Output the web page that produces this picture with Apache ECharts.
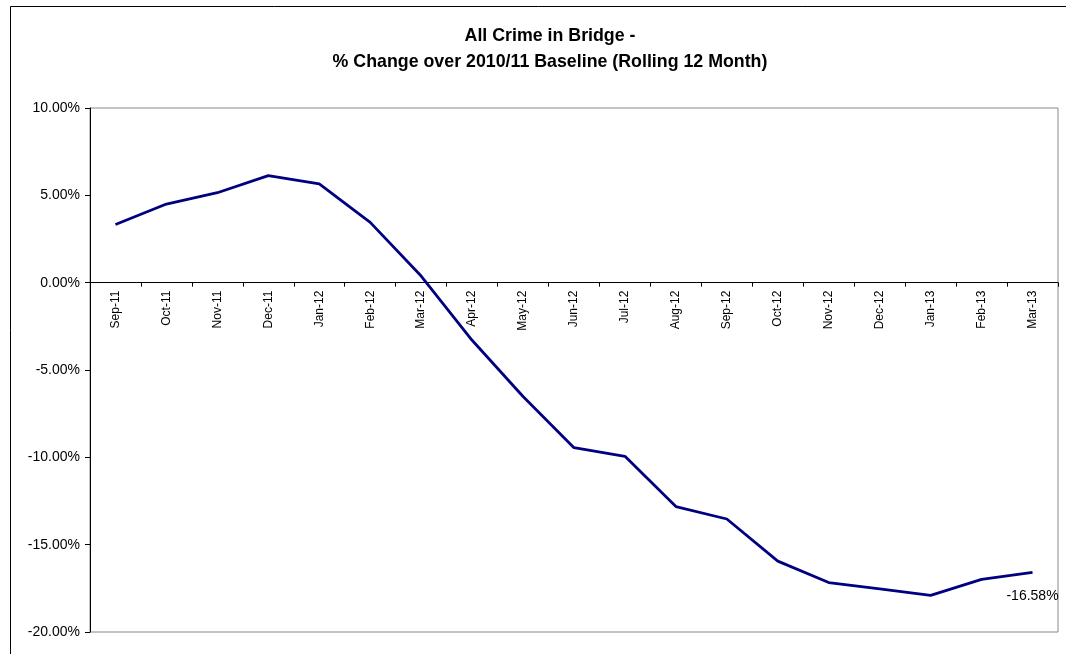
<!DOCTYPE html>
<html><head><meta charset="utf-8">
<script src="https://cdn.jsdelivr.net/npm/echarts@6/dist/echarts.min.js"></script>
<style>html,body{margin:0;padding:0;background:#fff}#c{width:1066px;height:654px}</style>
</head><body><div id="c"></div>
<script>
const categories = ['Sep-11','Oct-11','Nov-11','Dec-11','Jan-12','Feb-12','Mar-12','Apr-12','May-12','Jun-12','Jul-12','Aug-12','Sep-12','Oct-12','Nov-12','Dec-12','Jan-13','Feb-13','Mar-13'];
const pctChange = [3.33,4.50,5.15,6.13,5.65,3.45,0.38,-3.30,-6.52,-9.45,-9.94,-12.82,-13.53,-15.94,-17.17,-17.53,-17.90,-16.99,-16.58];
const yTicks = {min:-20, max:10, step:5};
const titleLines = ['All Crime in Bridge -', '% Change over 2010/11 Baseline (Rolling 12 Month)'];

const chart = echarts.init(document.getElementById('c'));
const font = 'Liberation Sans, Arial, sans-serif';
const gTop = 108, gBottom = 22, H = 654;
const zeroY = gTop + (H - gTop - gBottom) * (yTicks.max / (yTicks.max - yTicks.min));
const last = pctChange.length - 1;
chart.setOption({
  animation:false,
  backgroundColor:'#fff',
  title:{text:titleLines.join('\n'), left:545, top:18, textAlign:'center',
    textStyle:{fontFamily:font, fontSize:17.8, fontWeight:'bold', color:'#000', lineHeight:26}},
  graphic:[{type:'rect', shape:{x:10.5,y:6.5,width:1100,height:700}, style:{fill:'none', stroke:'#000', lineWidth:1}}],
  grid:[
    {left:90, right:8, top:gTop, bottom:gBottom, show:true, borderColor:'#888', borderWidth:1, backgroundColor:'transparent'},
    {left:90, right:8, top:gTop, bottom:H - zeroY, show:false}
  ],
  xAxis:[
    {type:'category', gridIndex:0, data:categories, boundaryGap:true, show:false},
    {type:'category', gridIndex:1, data:categories, boundaryGap:true, position:'bottom',
      axisLine:{show:true, onZero:false, lineStyle:{color:'#000', width:1}},
      axisTick:{show:true, interval:0, length:4, lineStyle:{color:'#000'}},
      axisLabel:{interval:0, rotate:90, fontFamily:font, fontSize:12, color:'#000', margin:8},
      splitLine:{show:false}}
  ],
  yAxis:[
    {type:'value', gridIndex:0, min:yTicks.min, max:yTicks.max, interval:yTicks.step,
      axisLine:{show:true, lineStyle:{color:'#000', width:1}},
      axisTick:{show:true, length:5, lineStyle:{color:'#000'}},
      axisLabel:{formatter:v=>v.toFixed(2)+'%', fontFamily:font, fontSize:14, color:'#000', margin:10},
      splitLine:{show:false}},
    {type:'value', gridIndex:1, min:0, max:1, show:false}
  ],
  series:[{type:'line', xAxisIndex:0, yAxisIndex:0, data:pctChange,
    symbol:'circle', symbolSize:0, showSymbol:true, showAllSymbol:true,
    lineStyle:{color:'#000080', width:2.8}, itemStyle:{color:'#000080'},
    label:{show:true, position:'bottom', distance:17, offset:[-2,0], fontFamily:font, fontSize:14, color:'#000',
      formatter:p=> p.dataIndex===last ? p.value.toFixed(2)+'%' : ''},
    labelLayout:{hideOverlap:false}}]
});
</script></body></html>
